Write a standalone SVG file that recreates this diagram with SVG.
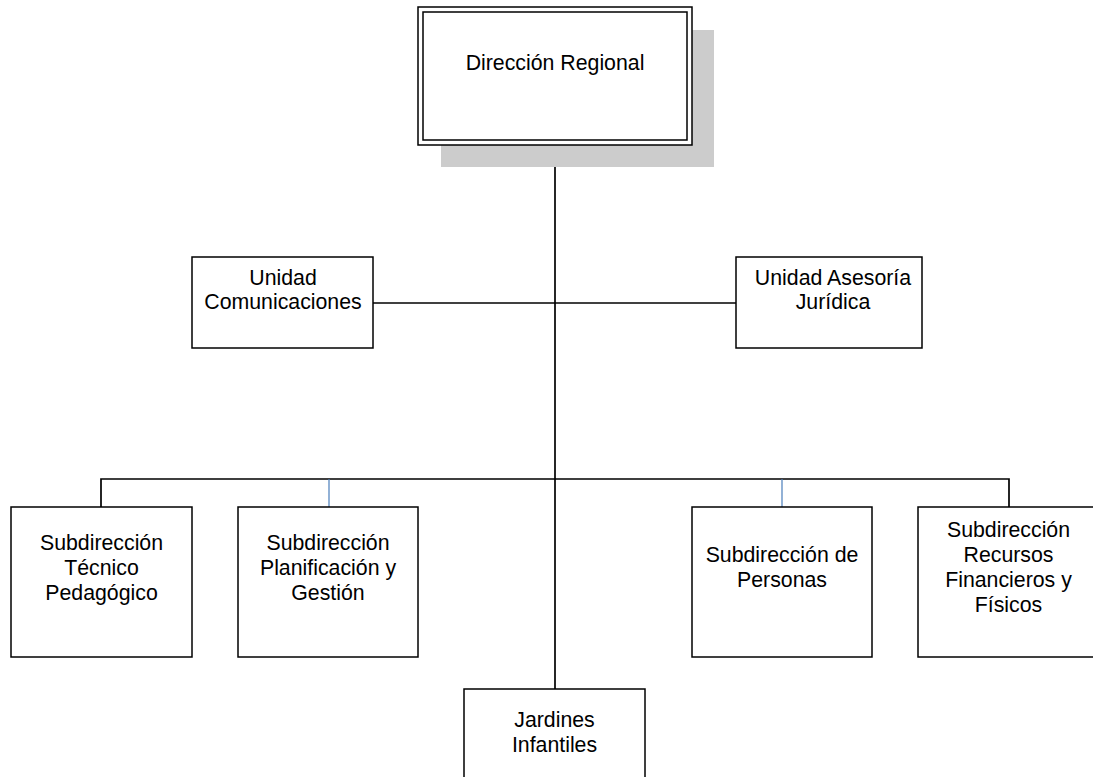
<svg xmlns="http://www.w3.org/2000/svg" width="1093" height="777" viewBox="0 0 1093 777">
  <style>
    .box { fill: #ffffff; stroke: #000000; stroke-width: 1.5; }
    .lbl { font-family: "Liberation Sans", Arial, sans-serif; font-size: 21.3px; fill: #000000; text-anchor: middle; }
    .wire { fill: none; stroke: #000000; stroke-width: 1.7; }
    .wire-blue { fill: none; stroke: #4a7ebb; stroke-width: 1.2; }
  </style>
  <rect x="0" y="0" width="1093" height="777" fill="#ffffff"/>

  <!-- connectors -->
  <g id="connectors">
    <line class="wire" x1="555" y1="145" x2="555" y2="689"/>
    <line class="wire" x1="373" y1="303" x2="736" y2="303"/>
    <polyline class="wire" points="101,507 101,479 1009,479 1009,507"/>
    <line class="wire-blue" x1="329" y1="479" x2="329" y2="507"/>
    <line class="wire-blue" x1="782" y1="479" x2="782" y2="507"/>
  </g>

  <!-- top node with drop shadow and double border -->
  <g id="direccion-regional">
    <rect x="441" y="30" width="273" height="137" fill="#cccccc"/>
    <rect class="box" x="418" y="7" width="274" height="138"/>
    <rect x="423" y="12" width="264" height="128" fill="none" stroke="#000000" stroke-width="1.5"/>
    <text class="lbl" x="555" y="70">Dirección Regional</text>
  </g>

  <g id="unidad-comunicaciones">
    <rect class="box" x="192" y="257" width="181" height="91"/>
    <text class="lbl" x="283" y="285">Unidad</text>
    <text class="lbl" x="283" y="309">Comunicaciones</text>
  </g>

  <g id="unidad-asesoria-juridica">
    <rect class="box" x="736" y="257" width="186" height="91"/>
    <text class="lbl" x="833" y="285">Unidad Asesoría</text>
    <text class="lbl" x="833" y="309">Jurídica</text>
  </g>

  <g id="sub-tecnico-pedagogico">
    <rect class="box" x="11" y="507" width="181" height="150"/>
    <text class="lbl" x="101.5" y="550">Subdirección</text>
    <text class="lbl" x="101.5" y="575">Técnico</text>
    <text class="lbl" x="101.5" y="600">Pedagógico</text>
  </g>

  <g id="sub-planificacion-gestion">
    <rect class="box" x="238" y="507" width="180" height="150"/>
    <text class="lbl" x="328" y="550">Subdirección</text>
    <text class="lbl" x="328" y="575">Planificación y</text>
    <text class="lbl" x="328" y="600">Gestión</text>
  </g>

  <g id="sub-personas">
    <rect class="box" x="692" y="507" width="180" height="150"/>
    <text class="lbl" x="782" y="562">Subdirección de</text>
    <text class="lbl" x="782" y="587">Personas</text>
  </g>

  <g id="sub-recursos">
    <rect class="box" x="918" y="507" width="181" height="150"/>
    <text class="lbl" x="1008.5" y="537">Subdirección</text>
    <text class="lbl" x="1008.5" y="562">Recursos</text>
    <text class="lbl" x="1008.5" y="587">Financieros y</text>
    <text class="lbl" x="1008.5" y="612">Físicos</text>
  </g>

  <g id="jardines-infantiles">
    <rect class="box" x="464" y="689" width="181" height="110"/>
    <text class="lbl" x="554.5" y="727">Jardines</text>
    <text class="lbl" x="554.5" y="752">Infantiles</text>
  </g>
</svg>
